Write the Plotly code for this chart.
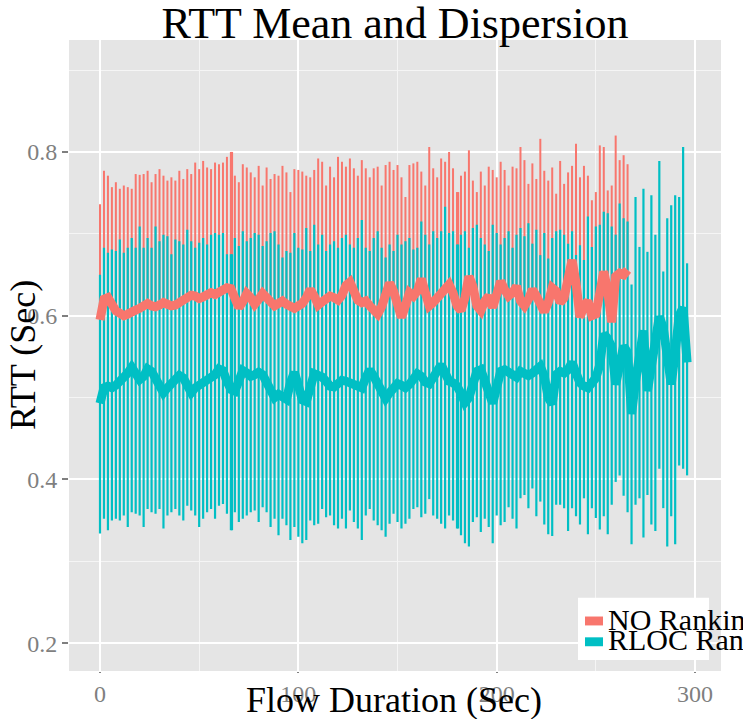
import numpy as np
import plotly.graph_objects as go

# ---------------- data ----------------
# time stamps (seconds), one measurement every 2 s
red_x = list(range(0, 268, 2))      # NO Ranking : 0 .. 266
teal_x = list(range(0, 298, 2))     # RLOC Ranking : 0 .. 296

# NO Ranking : mean RTT and upper end of dispersion bar
red_mean = [
    0.595, 0.620, 0.622, 0.612, 0.606, 0.603, 0.600, 0.602, 0.606, 0.607,
    0.609, 0.613, 0.615, 0.612, 0.611, 0.613, 0.616, 0.614, 0.612, 0.613,
    0.616, 0.619, 0.622, 0.625, 0.624, 0.621, 0.623, 0.626, 0.628, 0.626,
    0.628, 0.631, 0.634, 0.633, 0.618, 0.610, 0.617, 0.627, 0.622, 0.614,
    0.620, 0.627, 0.622, 0.616, 0.612, 0.615, 0.618, 0.614, 0.611, 0.609,
    0.612, 0.615, 0.622, 0.632, 0.624, 0.613, 0.617, 0.620, 0.624, 0.622,
    0.619, 0.625, 0.637, 0.641, 0.630, 0.619, 0.616, 0.618, 0.612, 0.606,
    0.602, 0.611, 0.626, 0.640, 0.630, 0.610, 0.598, 0.612, 0.628, 0.624,
    0.630, 0.645, 0.632, 0.612, 0.616, 0.622, 0.628, 0.634, 0.638, 0.628,
    0.612, 0.606, 0.622, 0.648, 0.636, 0.612, 0.606, 0.618, 0.624, 0.610,
    0.628, 0.642, 0.632, 0.624, 0.628, 0.636, 0.618, 0.612, 0.620, 0.632,
    0.624, 0.612, 0.605, 0.616, 0.634, 0.630, 0.616, 0.622, 0.645, 0.668,
    0.640, 0.598, 0.612, 0.618, 0.600, 0.602, 0.628, 0.654, 0.630, 0.592,
    0.648, 0.652, 0.650, 0.656,
]
red_hi = [
    0.736, 0.777, 0.771, 0.757, 0.763, 0.755, 0.759, 0.757, 0.755, 0.773,
    0.772, 0.773, 0.777, 0.763, 0.773, 0.779, 0.771, 0.765, 0.769, 0.765,
    0.777, 0.767, 0.779, 0.773, 0.787, 0.779, 0.789, 0.781, 0.779, 0.787,
    0.785, 0.787, 0.794, 0.800, 0.771, 0.763, 0.785, 0.781, 0.775, 0.769,
    0.783, 0.759, 0.781, 0.767, 0.773, 0.771, 0.783, 0.775, 0.751, 0.779,
    0.778, 0.776, 0.771, 0.769, 0.778, 0.792, 0.788, 0.759, 0.782, 0.769,
    0.794, 0.788, 0.782, 0.792, 0.780, 0.771, 0.790, 0.780, 0.769, 0.780,
    0.782, 0.759, 0.784, 0.788, 0.778, 0.784, 0.769, 0.745, 0.784, 0.786,
    0.788, 0.776, 0.759, 0.806, 0.780, 0.769, 0.792, 0.788, 0.800, 0.780,
    0.751, 0.771, 0.776, 0.802, 0.765, 0.751, 0.776, 0.759, 0.782, 0.778,
    0.769, 0.788, 0.778, 0.759, 0.782, 0.780, 0.806, 0.790, 0.761, 0.786,
    0.767, 0.816, 0.777, 0.765, 0.781, 0.749, 0.789, 0.761, 0.775, 0.783,
    0.810, 0.769, 0.783, 0.771, 0.741, 0.751, 0.808, 0.806, 0.753, 0.759,
    0.820, 0.790, 0.796, 0.785,
]

# RLOC Ranking : mean RTT, upper and lower end of dispersion bar
teal_mean = [
    0.493, 0.512, 0.514, 0.512, 0.515, 0.520, 0.522, 0.530, 0.537, 0.528,
    0.522, 0.526, 0.535, 0.532, 0.522, 0.512, 0.506, 0.512, 0.516, 0.520,
    0.527, 0.524, 0.515, 0.506, 0.512, 0.515, 0.518, 0.522, 0.524, 0.528,
    0.535, 0.533, 0.520, 0.510, 0.508, 0.520, 0.533, 0.530, 0.526, 0.528,
    0.531, 0.528, 0.520, 0.512, 0.500, 0.504, 0.502, 0.498, 0.518, 0.531,
    0.515, 0.497, 0.495, 0.512, 0.529, 0.527, 0.525, 0.520, 0.514, 0.513,
    0.518, 0.521, 0.520, 0.518, 0.517, 0.514, 0.512, 0.524, 0.534, 0.526,
    0.515, 0.504, 0.499, 0.506, 0.514, 0.517, 0.515, 0.512, 0.516, 0.522,
    0.529, 0.526, 0.519, 0.517, 0.524, 0.534, 0.540, 0.530, 0.520, 0.518,
    0.514, 0.505, 0.494, 0.500, 0.518, 0.532, 0.534, 0.520, 0.500, 0.493,
    0.512, 0.532, 0.534, 0.531, 0.528, 0.525, 0.532, 0.530, 0.527, 0.530,
    0.536, 0.538, 0.526, 0.500, 0.492, 0.528, 0.532, 0.530, 0.534, 0.543,
    0.530, 0.518, 0.514, 0.512, 0.518, 0.524, 0.540, 0.578, 0.572, 0.562,
    0.516, 0.540, 0.563, 0.555, 0.480, 0.520, 0.563, 0.582, 0.508, 0.540,
    0.571, 0.599, 0.585, 0.540, 0.516, 0.555, 0.600, 0.610, 0.543,
]
teal_hi = [
    0.650, 0.683, 0.677, 0.681, 0.679, 0.693, 0.677, 0.683, 0.695, 0.683,
    0.709, 0.683, 0.695, 0.683, 0.709, 0.691, 0.699, 0.697, 0.675, 0.693,
    0.691, 0.687, 0.705, 0.691, 0.683, 0.689, 0.695, 0.687, 0.699, 0.701,
    0.699, 0.701, 0.675, 0.675, 0.695, 0.685, 0.703, 0.691, 0.695, 0.701,
    0.699, 0.685, 0.691, 0.701, 0.703, 0.687, 0.671, 0.679, 0.677, 0.701,
    0.683, 0.681, 0.707, 0.679, 0.711, 0.687, 0.699, 0.679, 0.687, 0.691,
    0.683, 0.695, 0.699, 0.687, 0.683, 0.695, 0.717, 0.683, 0.679, 0.695,
    0.703, 0.683, 0.671, 0.687, 0.679, 0.699, 0.687, 0.691, 0.695, 0.681,
    0.683, 0.715, 0.699, 0.687, 0.703, 0.695, 0.703, 0.733, 0.701, 0.703,
    0.687, 0.699, 0.703, 0.683, 0.707, 0.711, 0.695, 0.687, 0.679, 0.711,
    0.701, 0.687, 0.695, 0.703, 0.683, 0.699, 0.707, 0.697, 0.713, 0.688,
    0.705, 0.674, 0.701, 0.670, 0.695, 0.703, 0.705, 0.699, 0.688, 0.703,
    0.674, 0.686, 0.668, 0.721, 0.684, 0.709, 0.711, 0.727, 0.725, 0.709,
    0.699, 0.737, 0.719, 0.715, 0.638, 0.745, 0.684, 0.755, 0.678, 0.747,
    0.699, 0.789, 0.654, 0.719, 0.735, 0.747, 0.745, 0.806, 0.664,
]
teal_lo = [
    0.334, 0.352, 0.338, 0.350, 0.352, 0.350, 0.356, 0.342, 0.360, 0.358,
    0.356, 0.342, 0.364, 0.360, 0.358, 0.364, 0.340, 0.356, 0.360, 0.364,
    0.356, 0.350, 0.368, 0.362, 0.356, 0.342, 0.352, 0.360, 0.364, 0.352,
    0.368, 0.370, 0.358, 0.338, 0.360, 0.348, 0.352, 0.356, 0.360, 0.362,
    0.348, 0.366, 0.360, 0.342, 0.352, 0.332, 0.352, 0.344, 0.326, 0.342,
    0.330, 0.322, 0.326, 0.350, 0.344, 0.346, 0.364, 0.354, 0.356, 0.344,
    0.340, 0.352, 0.340, 0.362, 0.348, 0.340, 0.326, 0.356, 0.364, 0.350,
    0.344, 0.338, 0.330, 0.346, 0.358, 0.348, 0.340, 0.346, 0.352, 0.364,
    0.366, 0.354, 0.358, 0.376, 0.356, 0.352, 0.346, 0.340, 0.356, 0.350,
    0.340, 0.332, 0.322, 0.318, 0.348, 0.354, 0.336, 0.352, 0.342, 0.322,
    0.356, 0.344, 0.348, 0.366, 0.352, 0.340, 0.377, 0.381, 0.365, 0.389,
    0.355, 0.373, 0.345, 0.333, 0.331, 0.369, 0.369, 0.365, 0.337, 0.365,
    0.355, 0.345, 0.377, 0.333, 0.365, 0.353, 0.339, 0.355, 0.333, 0.369,
    0.397, 0.405, 0.380, 0.360, 0.321, 0.369, 0.377, 0.329, 0.381, 0.345,
    0.337, 0.413, 0.365, 0.318, 0.355, 0.321, 0.417, 0.413, 0.405,
]

# two time stamps where the bar is drawn twice (looks doubled)
double_idx = [33, 90]

series_names = ["NO Ranking", "RLOC Ranking"]
RED = "#F8766D"
TEAL = "#00BFC4"

assert len(red_mean) == len(red_hi) == len(red_x)
assert len(teal_mean) == len(teal_hi) == len(teal_lo) == len(teal_x)

# ---------------- figure ----------------
rm = np.array(red_mean); rh = np.array(red_hi)
tm = np.array(teal_mean); th = np.array(teal_hi); tl = np.array(teal_lo)
rx = np.array(red_x); tx = np.array(teal_x)
di = np.array(double_idx)


def bars(x, m, up, down, color, thick):
    return go.Scatter(
        x=x, y=m, mode="markers",
        marker=dict(size=0.1, color="rgba(0,0,0,0)"),
        error_y=dict(type="data", symmetric=False, array=up, arrayminus=down,
                     color=color, thickness=thick, width=0),
        hoverinfo="skip", showlegend=False,
    )


zero_r = np.zeros_like(rm)
fig = go.Figure()
# the lower half of the NO Ranking bars is fully hidden behind the RLOC bars
fig.add_trace(bars(rx, rm, rh - rm, zero_r, RED, 2))
fig.add_trace(bars(rx[di] + 0.6, rm[di], (rh - rm)[di], zero_r[di], RED, 2))
fig.add_trace(bars(tx, tm, th - tm, tm - tl, TEAL, 2.2))
fig.add_trace(bars(tx[di] + 0.6, tm[di], (th - tm)[di], (tm - tl)[di], TEAL, 2))
fig.add_trace(go.Scatter(x=rx, y=rm, mode="lines", name=series_names[0],
                         line=dict(color=RED, width=9), showlegend=False))
fig.add_trace(go.Scatter(x=tx, y=tm, mode="lines", name=series_names[1],
                         line=dict(color=TEAL, width=9), showlegend=False))

L, R, T, B = 69, 22, 40, 42
W, H = 743, 719
pw, ph = W - L - R, H - T - B


def px_x(p):
    return (p - L) / pw


def px_y(p):
    return (H - B - p) / ph


tick_font = dict(family="Liberation Serif", size=24, color="#7f7f7f")
fig.update_layout(
    width=W, height=H,
    margin=dict(l=L, r=R, t=T, b=B, pad=0),
    paper_bgcolor="white", plot_bgcolor="#E5E5E5",
    showlegend=False,
    title=dict(text="RTT Mean and Dispersion",
               font=dict(family="Liberation Serif", size=44, color="black"),
               x=395 / W, xanchor="center", xref="container",
               y=1 - 23 / H, yanchor="middle", yref="container"),
    xaxis=dict(range=[-15.63, 313.1], tickmode="array", tickvals=[0, 100, 200, 300],
               ticktext=["0", "100", "200", "300"],
               ticks="outside", ticklen=1, tickwidth=1.5, tickcolor="#7f7f7f",
               tickfont=tick_font, showgrid=True, gridcolor="white", gridwidth=2,
               zeroline=False, showline=False,
               minor=dict(tickmode="array", tickvals=[50, 150, 250], showgrid=True,
                          gridcolor="#F5F5F5", gridwidth=1, ticks="")),
    yaxis=dict(range=[0.1661, 0.9367], tickmode="array", tickvals=[0.2, 0.4, 0.6, 0.8],
               ticktext=["0.2", "0.4", "0.6", "0.8"],
               ticks="outside", ticklen=6, tickwidth=1.5, tickcolor="#7f7f7f",
               tickfont=tick_font, showgrid=True, gridcolor="white", gridwidth=2,
               zeroline=False, showline=False,
               minor=dict(tickmode="array", tickvals=[0.3, 0.5, 0.7, 0.9], showgrid=True,
                          gridcolor="#F5F5F5", gridwidth=1, ticks="")),
)

title_font = dict(family="Liberation Serif", size=36, color="black")
annotations = [
    dict(text="Flow Duration (Sec)", xref="paper", yref="paper",
         x=px_x(394), y=px_y(706), xanchor="center", yanchor="middle",
         showarrow=False, font=title_font),
    dict(text="RTT (Sec)", xref="paper", yref="paper",
         x=px_x(23), y=px_y(358), xanchor="center", yanchor="middle",
         textangle=-90, showarrow=False, font=title_font),
]

# manual legend (box, keys, labels)
leg_font = dict(family="Liberation Serif", size=30, color="black")
shapes = [
    dict(type="rect", xref="paper", yref="paper", x0=px_x(578), x1=px_x(709),
         y0=px_y(666), y1=px_y(603), fillcolor="white", line=dict(width=0), layer="above"),
    dict(type="rect", xref="paper", yref="paper", x0=px_x(585), x1=px_x(603),
         y0=px_y(631), y1=px_y(622), fillcolor=RED, line=dict(width=0), layer="above"),
    dict(type="rect", xref="paper", yref="paper", x0=px_x(585), x1=px_x(603),
         y0=px_y(652), y1=px_y(643), fillcolor=TEAL, line=dict(width=0), layer="above"),
]
annotations += [
    dict(text=series_names[0], xref="paper", yref="paper", x=px_x(606), y=px_y(625),
         xanchor="left", yanchor="middle", showarrow=False, font=leg_font),
    dict(text=series_names[1], xref="paper", yref="paper", x=px_x(606), y=px_y(645),
         xanchor="left", yanchor="middle", showarrow=False, font=leg_font),
]
fig.update_layout(annotations=annotations, shapes=shapes)

fig.write_html("out.html")
